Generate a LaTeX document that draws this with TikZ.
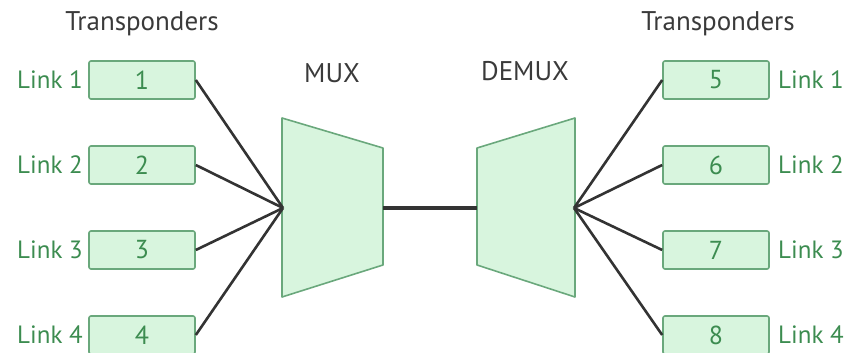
\documentclass[tikz,border=0pt]{standalone}
\usepackage{fontspec}
\setmainfont{PT Sans}
\begin{document}
\begin{tikzpicture}[x=1pt,y=-1pt,
  box/.style={draw=boxedge,fill=boxfill,line width=1.6pt,rounded corners=2pt,minimum width=106pt,minimum height=38pt,inner sep=0pt,text=lgreen,font=\fontsize{26}{26}\selectfont},
  lnk/.style={text=lgreen,font=\fontsize{25}{25}\selectfont,inner sep=0pt},
  ttl/.style={text=ttlgray,font=\fontsize{27}{27}\selectfont,inner sep=0pt},
  wire/.style={draw=wiregray,line width=2.6pt},
  trap/.style={draw=boxedge,fill=boxfill,line width=1.6pt,line join=round}]
\definecolor{boxfill}{HTML}{D8F5DE}
\definecolor{boxedge}{HTML}{6AA87C}
\definecolor{lgreen}{HTML}{3C8C50}
\definecolor{ttlgray}{HTML}{3A3A3A}
\definecolor{wiregray}{HTML}{333333}
\useasboundingbox (0,0) rectangle (848,353);
% titles
\node[ttl] (tl) at (142,24) {Transponders};
\node[ttl] (tr) at (718,24) {Transponders};
\node[ttl] (mux) at (332,73) {MUX};
\node[ttl] (demux) at (525,71) {DEMUX};
% trapezoids
\draw[trap] (282,118) -- (383,148) -- (383,265) -- (282,297) -- cycle;
\draw[trap] (477,148) -- (575,118) -- (575,297) -- (477,265) -- cycle;
\coordinate (fl) at (283,208);
\coordinate (ml) at (383,208);
\coordinate (dl) at (477,208);
\coordinate (fr) at (574,208);
\draw[wire,line width=3.8pt] (ml) -- (dl);
% left boxes
\foreach \i/\y in {1/80,2/165,3/250,4/335}{
  \node[box] (b\i) at (142,\y) {\i};
  \node[lnk,anchor=east] (ll\i) at (83,\y) {Link \i};
  \draw[wire] (b\i.east) -- (fl);
}
% right boxes
\foreach \i/\j/\y in {5/1/80,6/2/165,7/3/250,8/4/335}{
  \node[box] (b\i) at (716,\y) {\i};
  \node[lnk,anchor=west] (lr\i) at (778,\y) {Link \j};
  \draw[wire] (b\i.west) -- (fr);
}
\end{tikzpicture}
\end{document}
